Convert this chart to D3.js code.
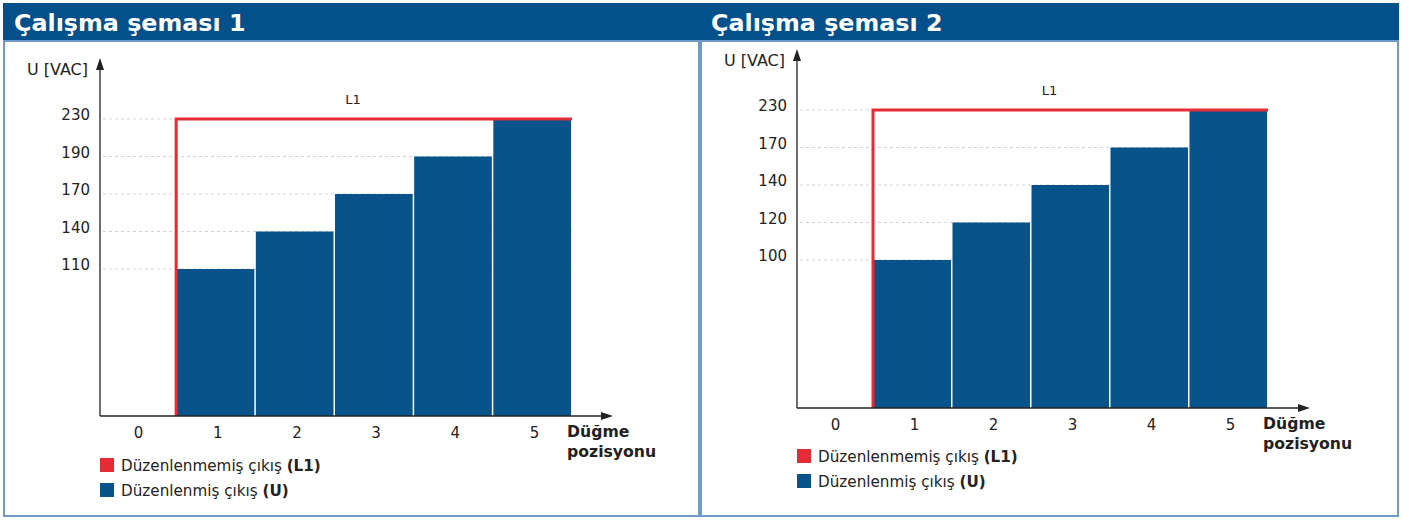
<!DOCTYPE html>
<html>
<head>
<meta charset="utf-8">
<script src="https://cdn.jsdelivr.net/npm/d3@7"></script>
<style>
  html, body { margin: 0; padding: 0; background: #fff; }
  svg { display: block; }
  text { font-family: "DejaVu Sans", Verdana, sans-serif; }
</style>
</head>
<body>
<svg id="chart" width="1409" height="520"></svg>
<script>
// ---- Data ----
const positions = ["0", "1", "2", "3", "4", "5"];
const titles = ["Çalışma şeması 1", "Çalışma şeması 2"];
const chart1Ticks = [110, 140, 170, 190, 230];
const chart1Values = [null, 110, 140, 170, 190, 230];
const chart2Ticks = [100, 120, 140, 170, 230];
const chart2Values = [null, 100, 120, 140, 170, 230];
const l1Value = 230;
const yAxisLabel = "U [VAC]";
const xAxisLabel = ["Düğme", "pozisyonu"];
const legendItems = [
  { text: "Düzenlenmemiş çıkış ", bold: "(L1)", color: "#e52b36" },
  { text: "Düzenlenmiş çıkış ", bold: "(U)", color: "#07538a" }
];

// ---- Style ----
const headerBlue = "#03508a";
const barBlue = "#07538a";
const red = "#e52b36";
const borderBlue = "#6e9cc6";

const svg = d3.select("#chart");

function panel(x0, x1, title) {
  const g = svg.append("g");
  g.append("rect").attr("x", x0).attr("y", 3).attr("width", x1 - x0).attr("height", 38)
    .attr("fill", headerBlue);
  g.append("rect").attr("x", x0 + 1).attr("y", 41).attr("width", x1 - x0 - 2).attr("height", 475)
    .attr("fill", "none").attr("stroke", borderBlue).attr("stroke-width", 2);
  g.append("text").attr("x", x0 + 11).attr("y", 31).attr("fill", "#fff")
    .attr("font-size", 23.8).attr("font-weight", "bold").text(title);
}

panel(3, 700, titles[0]);
panel(700, 1399, titles[1]);

function drawChart(cfg) {
  const g = svg.append("g");
  const x = d3.scaleBand().domain(positions).range([cfg.bandLeft, cfg.barRight]).padding(0);
  const step = (cfg.firstTickY - cfg.lastTickY) / (cfg.ticks.length - 1);
  const y = d3.scaleLinear()
    .domain([0].concat(cfg.ticks))
    .range([cfg.baseline].concat(cfg.ticks.map((t, i) => cfg.firstTickY - i * step)));

  // grid lines
  g.selectAll(".grid").data(cfg.ticks).join("line")
    .attr("x1", cfg.axisX + 3).attr("x2", cfg.barRight)
    .attr("y1", d => y(d)).attr("y2", d => y(d))
    .attr("stroke", "#d4d4d4").attr("stroke-width", 1).attr("stroke-dasharray", "3,3");

  // tick labels
  g.selectAll(".tick").data(cfg.ticks).join("text")
    .attr("x", cfg.axisX - 10).attr("y", d => y(d) + 1)
    .attr("text-anchor", "end").attr("font-size", 15).attr("fill", "#222")
    .text(d => d);

  // bars
  const barData = positions.map((p, i) => ({ p, v: cfg.values[i] })).filter(d => d.v != null);
  g.selectAll(".bar").data(barData).join("rect")
    .attr("x", d => x(d.p) + 0.5)
    .attr("width", x.bandwidth() - 1.5)
    .attr("y", d => y(d.v))
    .attr("height", d => y(0) - y(d.v))
    .attr("fill", barBlue);

  // L1 line
  const lx = x("1");
  g.append("path")
    .attr("d", d3.line()([[lx, y(0)], [lx, y(l1Value)], [x("5") + x.bandwidth(), y(l1Value)]]))
    .attr("fill", "none").attr("stroke", red).attr("stroke-width", 3);
  g.append("text").attr("x", (lx + x("5") + x.bandwidth()) / 2 - 21).attr("y", y(l1Value) - 15)
    .attr("text-anchor", "middle").attr("font-size", 13).attr("fill", "#222").text("L1");

  // axes
  g.append("line").attr("x1", cfg.axisX).attr("x2", cfg.axisX)
    .attr("y1", cfg.baseline).attr("y2", cfg.yArrowTop + 6)
    .attr("stroke", "#222").attr("stroke-width", 1.3);
  g.append("path")
    .attr("d", `M${cfg.axisX - 4},${cfg.yArrowTop + 12} L${cfg.axisX},${cfg.yArrowTop} L${cfg.axisX + 4},${cfg.yArrowTop + 12} Z`)
    .attr("fill", "#222");
  g.append("line").attr("x1", cfg.axisX).attr("x2", cfg.xArrowRight - 6)
    .attr("y1", cfg.baseline).attr("y2", cfg.baseline)
    .attr("stroke", "#222").attr("stroke-width", 1.3);
  g.append("path")
    .attr("d", `M${cfg.xArrowRight - 12},${cfg.baseline - 4} L${cfg.xArrowRight},${cfg.baseline} L${cfg.xArrowRight - 12},${cfg.baseline + 4} Z`)
    .attr("fill", "#222");

  // x labels
  g.selectAll(".xl").data(positions).join("text")
    .attr("x", d => x(d) + x.bandwidth() / 2 + 2)
    .attr("y", cfg.baseline + 22)
    .attr("text-anchor", "middle").attr("font-size", 15).attr("fill", "#222")
    .text(d => d);

  // axis titles
  g.append("text").attr("x", cfg.axisX - 12).attr("y", cfg.yArrowTop + 17)
    .attr("text-anchor", "end").attr("font-size", 16).attr("fill", "#222").text(yAxisLabel);
  xAxisLabel.forEach((t, i) => {
    g.append("text").attr("x", cfg.barRight - 5).attr("y", cfg.baseline + 21 + i * 20)
      .attr("font-size", 15.7).attr("font-weight", "bold").attr("fill", "#222").text(t);
  });

  // legend
  legendItems.forEach((it, i) => {
    const ly = cfg.legendY + i * 25;
    g.append("rect").attr("x", cfg.axisX).attr("y", ly).attr("width", 14).attr("height", 14)
      .attr("fill", it.color);
    const t = g.append("text").attr("x", cfg.axisX + 21).attr("y", ly + 13)
      .attr("font-size", 15.2).attr("fill", "#222");
    t.append("tspan").text(it.text);
    t.append("tspan").attr("font-weight", "bold").text(it.bold);
  });
}

drawChart({
  axisX: 100, bandLeft: 97, barRight: 572, baseline: 416, firstTickY: 269, lastTickY: 119,
  ticks: chart1Ticks, values: chart1Values, yArrowTop: 58, xArrowRight: 613, legendY: 458
});
drawChart({
  axisX: 797, bandLeft: 794, barRight: 1268, baseline: 408, firstTickY: 260, lastTickY: 110,
  ticks: chart2Ticks, values: chart2Values, yArrowTop: 49, xArrowRight: 1310, legendY: 449
});
</script>
</body>
</html>
